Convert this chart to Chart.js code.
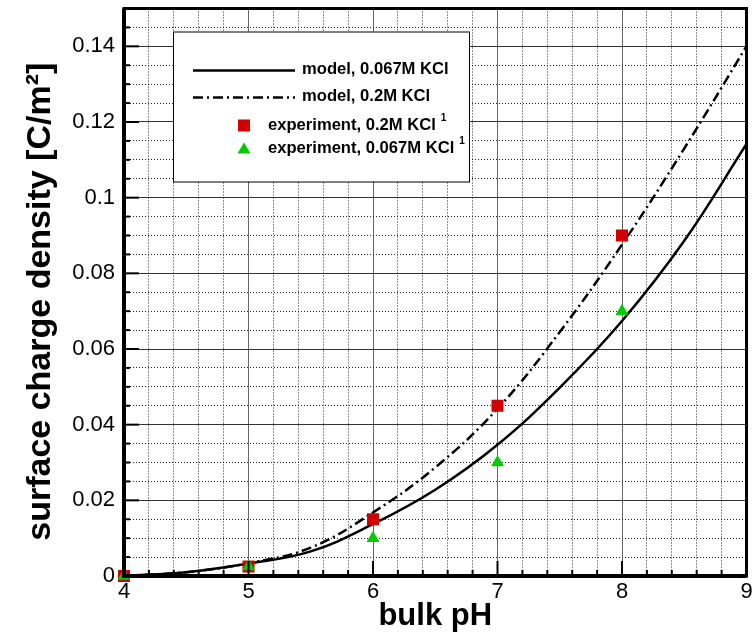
<html lang="en">
<head>
  <meta charset="utf-8">
  <title>surface charge density vs bulk pH</title>
  <style>
    body { padding: 0; margin: 0; background: #fff; }
    #wrap { width: 755px; height: 636px; }
  </style>
  <script src="https://cdn.jsdelivr.net/npm/chart.js@4.4.0/dist/chart.umd.min.js"></script>
</head>
<body>
  <div id="wrap"><canvas id="chart" width="755" height="636"></canvas></div>
  <script>
    // model curves
    const phModel  = [4, 4.5, 5, 5.5, 6, 6.5, 7, 7.5, 8, 8.5, 9];
    const model067 = [0, 0.001, 0.0033, 0.0065, 0.0137, 0.0228, 0.0347, 0.0498, 0.0674, 0.0886, 0.1142];
    const model02  = [0, 0.001, 0.0034, 0.0075, 0.0168, 0.0287, 0.0442, 0.0645, 0.0876, 0.113, 0.140];

    // experiment points
    const phExp  = [4, 5, 6, 7, 8];
    const exp02  = [0, 0.0025, 0.015, 0.045, 0.09];
    const exp067 = [0, 0.0025, 0.010, 0.030, 0.070];

    const xTickLabels = ['4', '5', '6', '7', '8', '9'];
    const yTickLabels = ['0', '0.02', '0.04', '0.06', '0.08', '0.1', '0.12', '0.14'];

    const legendNames = ['model, 0.067M KCl', 'model, 0.2M KCl', 'experiment, 0.2M KCl', 'experiment, 0.067M KCl'];

    const FONT = "'Liberation Sans', Arial, sans-serif";
    const RED = '#d00000';
    const GREEN = '#00cc00';
    const DASHDOT = [10, 4, 2, 4];

    const toXY = (xs, ys) => xs.map((x, i) => ({ x: x, y: ys[i] }));
    const isMajorX = v => Math.abs(v - Math.round(v)) < 1e-6;
    const isMajorY = v => Math.abs(v * 50 - Math.round(v * 50)) < 1e-6;

    // frame, inward ticks and the boxed legend
    const extras = {
      id: 'extras',
      afterDraw(chart) {
        const ctx = chart.ctx;
        const a = chart.chartArea;
        const xs = chart.scales.x, ys = chart.scales.y;
        ctx.save();
        ctx.strokeStyle = '#000';
        ctx.lineWidth = 2;
        xs.ticks.forEach(t => {
          const px = xs.getPixelForValue(t.value);
          const len = isMajorX(t.value) ? 15 : 6;
          ctx.beginPath(); ctx.moveTo(px, a.bottom); ctx.lineTo(px, a.bottom - len); ctx.stroke();
        });
        ys.ticks.forEach(t => {
          const py = ys.getPixelForValue(t.value);
          const len = isMajorY(t.value) ? 15 : 6;
          ctx.beginPath(); ctx.moveTo(a.left, py); ctx.lineTo(a.left + len, py); ctx.stroke();
        });
        ctx.lineWidth = 3;
        ctx.strokeRect(a.left, a.top, a.right - a.left, a.bottom - a.top);
        // left and bottom axes a bit heavier
        ctx.lineWidth = 4;
        ctx.beginPath(); ctx.moveTo(a.left, a.top); ctx.lineTo(a.left, a.bottom); ctx.lineTo(a.right, a.bottom); ctx.stroke();

        // legend
        const bx = a.left + 49, by = a.top + 23, bw = 296, bh = 150;
        ctx.fillStyle = '#fff';
        ctx.fillRect(bx, by, bw, bh);
        ctx.lineWidth = 1;
        ctx.strokeRect(bx + 0.5, by + 0.5, bw, bh);

        ctx.lineWidth = 2.5;
        ctx.beginPath(); ctx.moveTo(bx + 20, by + 39); ctx.lineTo(bx + 122, by + 39); ctx.stroke();
        ctx.setLineDash(DASHDOT);
        ctx.beginPath(); ctx.moveTo(bx + 20, by + 66); ctx.lineTo(bx + 122, by + 66); ctx.stroke();
        ctx.setLineDash([]);

        ctx.fillStyle = RED;
        ctx.fillRect(bx + 65, by + 88, 12, 12);
        ctx.fillStyle = GREEN;
        ctx.beginPath();
        ctx.moveTo(bx + 71, by + 111); ctx.lineTo(bx + 77.5, by + 122); ctx.lineTo(bx + 64.5, by + 122);
        ctx.closePath(); ctx.fill();

        ctx.fillStyle = '#000';
        ctx.textBaseline = 'middle';
        const big = 'bold 16.6px ' + FONT;
        ctx.font = big;
        const rows = [[bx + 129, by + 38], [bx + 129, by + 65], [bx + 95, by + 94], [bx + 95, by + 117]];
        rows.forEach((r, i) => {
          ctx.fillText(legendNames[i], r[0], r[1]);
          if (i >= 2) {
            const w = ctx.measureText(legendNames[i]).width;
            ctx.font = 'bold 10px ' + FONT;
            ctx.fillText('1', r[0] + w + 5, r[1] - 7);
            ctx.font = big;
          }
        });
        ctx.restore();
      }
    };

    new Chart(document.getElementById('chart'), {
      type: 'line',
      data: {
        datasets: [
          {
            label: legendNames[3],
            data: toXY(phExp, exp067),
            showLine: false,
            clip: false,
            pointStyle: 'triangle',
            pointRadius: 7.5,
            pointBackgroundColor: GREEN,
            pointBorderWidth: 0,
            order: 0
          },
          {
            label: legendNames[2],
            data: toXY(phExp, exp02),
            showLine: false,
            clip: false,
            pointStyle: 'rect',
            pointRadius: 8.5,
            pointBackgroundColor: RED,
            pointBorderWidth: 0,
            order: 1
          },
          {
            label: legendNames[0],
            data: toXY(phModel, model067),
            borderColor: '#000',
            borderWidth: 2.5,
            pointRadius: 0,
            tension: 0.4,
            order: 2
          },
          {
            label: legendNames[1],
            data: toXY(phModel, model02),
            borderColor: '#000',
            borderWidth: 2.5,
            borderDash: DASHDOT,
            pointRadius: 0,
            tension: 0.4,
            order: 3
          }
        ]
      },
      options: {
        responsive: false,
        animation: false,
        events: [],
        layout: { padding: { left: 0, top: 7, right: 7, bottom: 0 } },
        plugins: { legend: { display: false }, tooltip: { enabled: false } },
        scales: {
          x: {
            type: 'linear',
            min: 4,
            max: 9,
            afterFit: s => { s.height = 60; s.paddingLeft = 0; s.paddingRight = 0; },
            ticks: {
              stepSize: 0.2,
              maxTicksLimit: 100,
              autoSkip: false,
              maxRotation: 0,
              padding: 3,
              color: '#000',
              font: { family: FONT, size: 22 },
              callback: v => isMajorX(v) ? xTickLabels[Math.round(v) - 4] : ''
            },
            grid: {
              drawTicks: false,
              color: c => isMajorX(c.tick.value) ? '#666' : '#222',
              lineWidth: 1
            },
            border: { display: false, dash: c => (c.tick && isMajorX(c.tick.value)) ? [] : [1, 2] },
            title: {
              display: true,
              text: 'bulk pH',
              color: '#000',
              font: { family: FONT, size: 31, weight: 'bold' },
              padding: { top: 0, bottom: 1 }
            }
          },
          y: {
            min: 0,
            max: 0.15,
            afterFit: s => { s.width = 124; s.paddingTop = 0; s.paddingBottom = 0; },
            ticks: {
              stepSize: 0.005,
              maxTicksLimit: 100,
              autoSkip: false,
              padding: 9,
              color: '#000',
              font: { family: FONT, size: 22 },
              callback: v => isMajorY(v) ? yTickLabels[Math.round(v * 50)] : ''
            },
            grid: {
              drawTicks: false,
              color: c => isMajorY(c.tick.value) ? '#333' : '#222',
              lineWidth: 1
            },
            border: { display: false, dash: c => (c.tick && isMajorY(c.tick.value)) ? [] : [1, 2] },
            title: {
              display: true,
              text: 'surface charge density [C/m²]  ',
              color: '#000',
              font: { family: FONT, size: 34, weight: 'bold' },
              padding: { top: 20, bottom: 0 }
            }
          }
        }
      },
      plugins: [extras]
    });
  </script>
</body>
</html>
